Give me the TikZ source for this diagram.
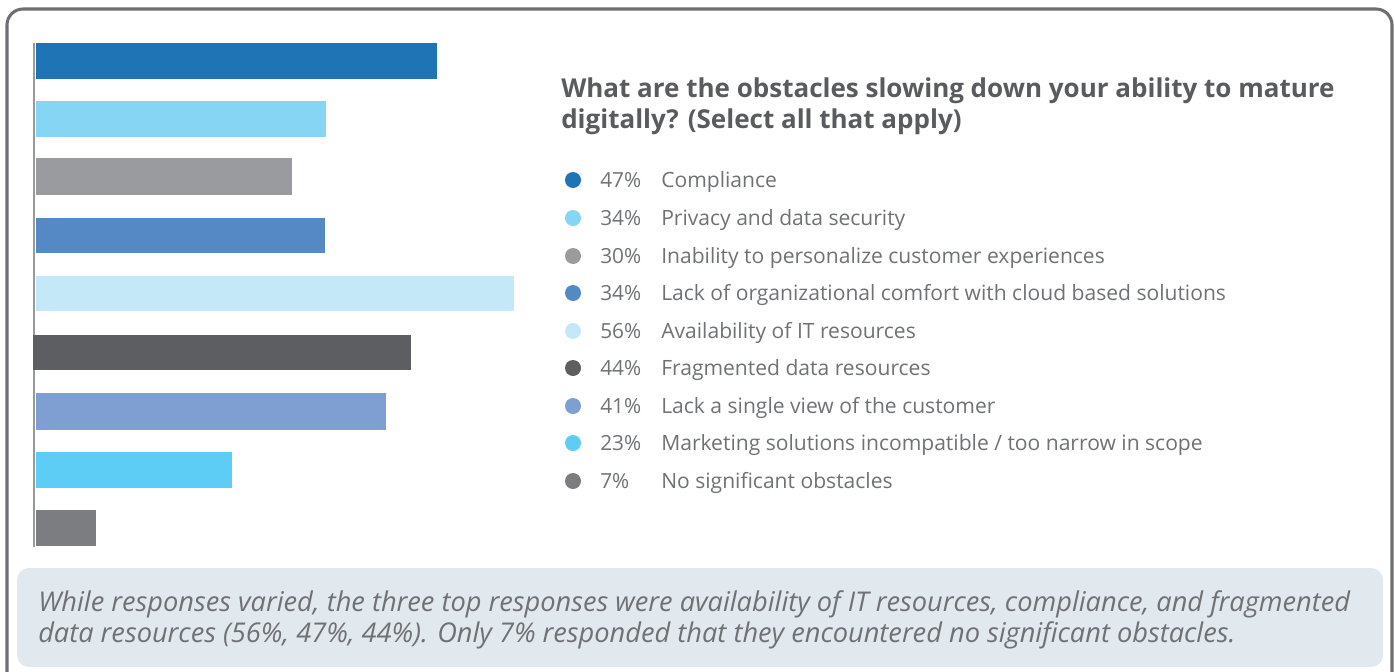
\documentclass[tikz,border=0pt]{standalone}
\usepackage{fontspec}
\setmainfont{Open Sans}

\definecolor{frameGray}{HTML}{6D6E71}
\definecolor{titleGray}{HTML}{5A5B5E}
\definecolor{textGray}{HTML}{707174}
\definecolor{noteFill}{HTML}{E1E8EE}
\definecolor{cCompl}{HTML}{1F74B6}
\definecolor{cPriv}{HTML}{87D5F5}
\definecolor{cPers}{HTML}{9A9B9E}
\definecolor{cCloud}{HTML}{5489C5}
\definecolor{cIT}{HTML}{C4E8F8}
\definecolor{cFrag}{HTML}{5D5E62}
\definecolor{cView}{HTML}{7F9ED1}
\definecolor{cMkt}{HTML}{5ECDF6}
\definecolor{cNone}{HTML}{7C7D80}

\tikzset{
  dot/.style={circle, fill=#1, inner sep=0pt, minimum size=12pt},
  pct/.style={anchor=base west, text=textGray, font=\fontsize{15.6}{18}\selectfont, inner sep=0pt},
  lbl/.style={anchor=base west, text=textGray, font=\fontsize{15.8}{18}\selectfont, inner sep=0pt},
}

\begin{document}
\begin{tikzpicture}[x=0.75pt, y=-0.75pt]

\useasboundingbox (0,0) rectangle (1395,671);

% Outer frame
\draw[frameGray, line width=2.3pt, rounded corners=12pt]
  (7,700) -- (7,9) -- (1392,9) -- (1392,700);

% Axis
\draw[frameGray!70, line width=2pt] (34,43) -- (34,547);

% Bars (8.54px per percent)
\fill[cCompl] (36,43)  rectangle (437,79);
\fill[cPriv]  (36,101) rectangle (326,137);
\fill[cPers]  (36,158) rectangle (292,195);
\fill[cCloud] (36,218) rectangle (325,253);
\fill[cIT]    (36,276) rectangle (514,311);
\fill[cFrag]  (33,335) rectangle (411,370);
\fill[cView]  (36,393) rectangle (386,430);
\fill[cMkt]   (36,452) rectangle (232,488);
\fill[cNone]  (36,510) rectangle (96,546);

% Title
\node[anchor=base west, inner sep=0pt, text=titleGray, font=\fontsize{19.5}{23}\selectfont\bfseries]
  (title1) at (561,97) {What are the obstacles slowing down your ability to mature};
\node[anchor=base west, inner sep=0pt, text=titleGray, font=\fontsize{19.5}{23}\selectfont\bfseries]
  (title2) at (561,128) {digitally? (Select all that apply)};

% Legend
\node[dot=cCompl] (d1) at (573,180) {};
\node[pct] (p1) at (600,187) {47\%};
\node[lbl] (l1) at (661,187) {Compliance};

\node[dot=cPriv] (d2) at (573,218) {};
\node[pct] (p2) at (600,225) {34\%};
\node[lbl] (l2) at (661,225) {Privacy and data security};

\node[dot=cPers] (d3) at (573,256) {};
\node[pct] (p3) at (600,263) {30\%};
\node[lbl] (l3) at (661,263) {Inability to personalize customer experiences};

\node[dot=cCloud] (d4) at (573,293) {};
\node[pct] (p4) at (600,300) {34\%};
\node[lbl] (l4) at (661,300) {Lack of organizational comfort with cloud based solutions};

\node[dot=cIT] (d5) at (573,331) {};
\node[pct] (p5) at (600,338) {56\%};
\node[lbl] (l5) at (661,338) {Availability of IT resources};

\node[dot=cFrag] (d6) at (573,368) {};
\node[pct] (p6) at (600,375) {44\%};
\node[lbl] (l6) at (661,375) {Fragmented data resources};

\node[dot=cView] (d7) at (573,406) {};
\node[pct] (p7) at (600,413) {41\%};
\node[lbl] (l7) at (661,413) {Lack a single view of the customer};

\node[dot=cMkt] (d8) at (573,443) {};
\node[pct] (p8) at (600,450) {23\%};
\node[lbl] (l8) at (661,450) {Marketing solutions incompatible / too narrow in scope};

\node[dot=cNone] (d9) at (573,481) {};
\node[pct] (p9) at (600,488) {7\%};
\node[lbl] (l9) at (661,488) {No significant obstacles};

% Note box
\fill[noteFill, rounded corners=9pt] (17,568) rectangle (1383,667);
\node[anchor=base west, inner sep=0pt, text=textGray, font=\fontsize{20.4}{23}\selectfont\itshape]
  (note1) at (38,611) {While responses varied, the three top responses were availability of IT resources, compliance, and fragmented};
\node[anchor=base west, inner sep=0pt, text=textGray, font=\fontsize{20.4}{23}\selectfont\itshape]
  (note2) at (38,642) {data resources (56\%, 47\%, 44\%). Only 7\% responded that they encountered no significant obstacles.};

\end{tikzpicture}
\end{document}
